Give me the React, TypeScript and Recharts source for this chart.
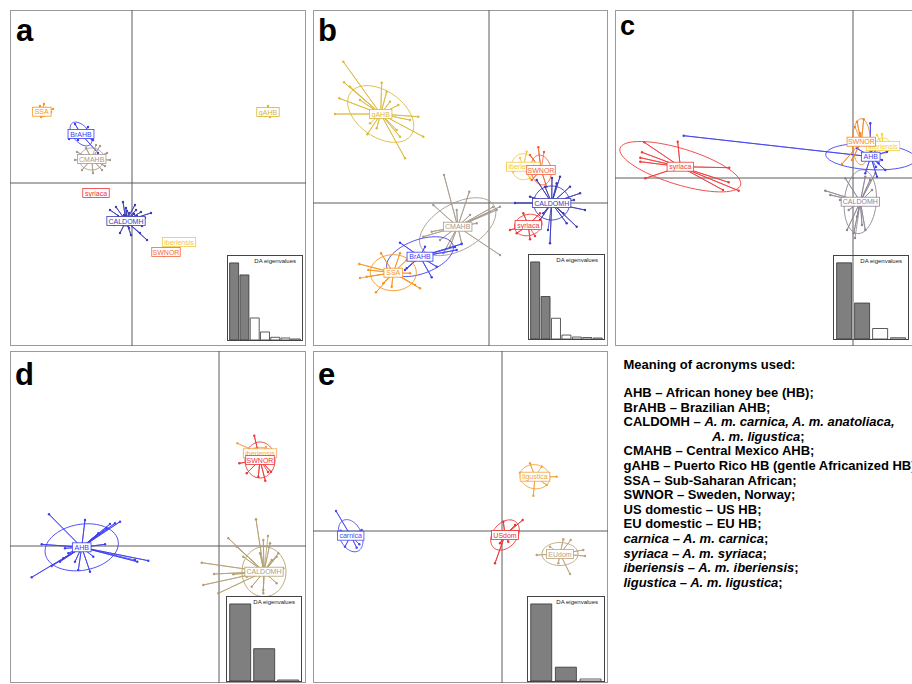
import React from 'react';
import { ComposedChart, Scatter, XAxis, YAxis, ReferenceLine, BarChart, Bar, Cell } from 'recharts';

const FONT = '"Liberation Sans", Arial, Helvetica, sans-serif';
const S = 10; // pixels per discriminant-function unit

type P = [number, number];
type E = [number, number, number]; // semi-axis 1, semi-axis 2, rotation (deg)
interface G { name: string; c: P; e: E; pts: P[]; col: string }

// ---------------- Panel a ----------------
const aSSA: P[] = [[-9.8, 7.3], [-9.6, 6.9], [-9.2, 7.7], [-8.8, 7.9], [-8.4, 7.3], [-8.1, 7.1], [-8.9, 6.7], [-9.4, 6.8], [-8.6, 7.5], [-9.1, 6.6], [-7.9, 7.4]];
const aBrAHB: P[] = [[-3.4, 3.0], [-6.3, 4.4], [-5.7, 5.9], [-4.4, 5.6], [-3.9, 4.3], [-5.4, 4.3], [-4.7, 5.1]];
const aCMAHB: P[] = [[-5.7, 2.3], [-5.5, 3.1], [-2.5, 3.0], [-2.7, 1.7], [-3.9, 1.0], [-5.0, 1.3], [-3.2, 3.7], [-4.6, 3.5], [-3.0, 1.3], [-2.2, 2.3], [-3.6, 3.8]];
const aSyriaca: P[] = [[-3.75, -1.3], [-3.55, -1.32], [-3.45, -1.28]];
const aCALDOMH: P[] = [[-0.9, -1.9], [-2.2, -2.7], [1.5, -5.7], [-1.2, -5.0], [1.3, -3.5], [-0.3, -3.0], [0.2, -3.1], [-0.8, -3.2], [0.4, -2.7], [-0.5, -2.8], [0.1, -3.6], [-1.0, -3.8], [0.7, -3.9], [-0.2, -4.1], [0.5, -3.3], [-1.4, -3.3], [0.9, -2.9], [-0.6, -2.5], [1.0, -4.3], [-0.3, -4.5], [-1.6, -2.4], [0.3, -2.2], [-1.8, -4.2], [1.9, -3.0], [-0.1, -5.2], [0.8, -5.0]];
const aIberiensis: P[] = [[4.3, -5.8], [4.6, -6.0], [5.0, -5.9], [4.8, -5.7]];
const aSWNOR: P[] = [[3.0, -6.7], [3.2, -7.3], [3.6, -7.2], [3.9, -7.1], [3.5, -6.7], [4.2, -6.8]];
const aGAHB: P[] = [[13.0, 7.4], [13.3, 6.7], [14.1, 7.5], [14.4, 7.0], [13.8, 6.6], [13.6, 7.7], [12.9, 7.0], [14.2, 6.8]];

// ---------------- Panel b ----------------
const bGAHB: P[] = [[-14.57, 14.13], [-14.5, 12.07], [-14.97, 10.47], [-15.4, 8.9], [-12.17, 6.87], [-8.4, 4.47], [-6.57, 6.63], [-7.07, 8.63], [-9.07, 9.8], [-10.23, 11.13], [-10.73, 12.03], [-9.9, 10.13], [-8.9, 6.63], [-12.9, 10.3], [-13.9, 11.63], [-9.23, 7.3], [-11.23, 7.47], [-7.9, 8.3], [-11.9, 7.97]];
const bCMAHB: P[] = [[-4.5, 2.8], [-1.97, 1.13], [-5.57, -0.2], [1.1, -0.37], [0.77, -0.7], [1.1, -5.2], [-4.57, -5.03], [-6.57, -3.37], [-5.73, -2.87], [-1.9, -1.2], [-1.23, -2.03], [-2.73, -4.03], [-3.9, -4.37], [-4.9, -3.7], [-3.23, -0.7], [0.4, -0.4], [0.1, -0.9]];
const bBrAHB: P[] = [[-8.9, -3.97], [-5.73, -7.43], [-8.23, -6.53], [-2.73, -4.1], [-3.23, -4.7], [-6.4, -4.37], [-7.57, -5.7], [-5.23, -6.37], [-8.4, -6.7], [-3.4, -4.4]];
const bSSA: P[] = [[-12.97, -6.1], [-12.23, -7.37], [-11.3, -8.93], [-10.8, -5.03], [-8.23, -5.7], [-6.9, -8.53], [-7.4, -8.2], [-8.9, -5.03], [-9.73, -8.37], [-12.07, -6.7], [-7.9, -7.03], [-10.57, -8.03], [-12.9, -7.5]];
const bIberiensis: P[] = [[3.77, 5.13], [2.43, 3.13], [4.1, 2.47], [3.1, 4.5]];
const bSWNOR: P[] = [[4.93, 5.57], [4.1, 4.8], [5.77, 1.63], [6.1, 2.97], [4.27, 2.3], [5.5, 5.1]];
const bCALDOMH: P[] = [[2.6, 0], [4.77, 2.3], [7.1, 2.63], [9.1, 0.97], [9.6, -0.7], [6.1, -4.03], [8.77, -2.37], [7.77, -2.03], [5.1, -1.7], [4.1, 0.63], [6.77, 1.97], [8.1, 1.63], [5.6, 1.63], [7.43, -1.03], [5.43, -1.03], [6.3, 2.5], [8.5, 0.3], [5.9, -2.7]];
const bSyriaca: P[] = [[2.1, -2.7], [4.1, -3.63], [5.1, -1.03], [2.77, -3.03], [3.43, -1.03], [4.6, -3.3]];

// ---------------- Panel c ----------------
const cSyriaca: P[] = [[-20.87, 3.57], [-17.53, 3.63], [-21.1, 2.57], [-21.27, 2.03], [-21.27, 1.63], [-20.77, -0.03], [-12.37, 1.03], [-12.43, -0.43], [-13.0, -1.2], [-11.43, -1.27], [-16.1, 0.8]];
const cAHB: P[] = [[-16.93, 4.23], [1.73, 5.47], [2.73, 3.3], [3.4, 2.63], [3.23, 0.8], [2.4, 0.13], [1.23, 0.47], [0.4, 2.97], [2.57, 1.47], [2.9, 1.8], [1.9, 2.8], [2.3, 1.1]];
const cSWNOR: P[] = [[0.4, 5.63], [1.07, 5.87], [-1.1, 1.4], [-0.1, 1.8], [0.7, 4.47], [1.57, 2.97], [0.2, 5.1]];
const cIberiensis: P[] = [[2.4, 4.3], [3.3, 3.5], [2.9, 4.4], [2.6, 3.3]];
const cCALDOMH: P[] = [[-2.77, -1.27], [-2.27, -1.7], [-0.77, -0.03], [0.07, -5.53], [-0.6, -5.2], [1.23, -5.2], [2.23, 0.47], [1.9, -1.2], [0.4, -3.87], [0.9, -4.7], [-0.43, -3.2], [1.23, 0.13], [1.7, -0.2], [-1.3, -2.2], [0.2, -6.0]];

// ---------------- Panel d ----------------
const dAHB: P[] = [[-17.0, 3.17], [-17.73, 0.17], [-18.73, -3.13], [-16.73, -2.0], [-15.57, -1.23], [-14.07, -2.4], [-12.9, -2.57], [-13.4, 2.6], [-9.9, 2.43], [-10.4, 2.27], [-11.23, 1.77], [-11.4, 0.17], [-8.17, -1.57], [-7.07, -1.47], [-15.4, -0.23], [-15.07, -0.73], [-12.57, -1.07], [-12.07, 1.27], [-15.9, -1.57], [-14.4, -1.57], [-10.9, 2.2], [-8.4, -1.4]];
const dCALDOMH: P[] = [[3.7, 2.67], [0.93, 0.77], [-1.73, -1.67], [-1.57, -3.9], [4.43, 0.6], [5.1, 0.27], [5.77, -1.07], [2.43, -1.07], [3.27, -4.07], [4.43, -4.4], [5.77, -3.73], [1.77, -0.07], [5.93, -0.73], [5.27, -1.4], [4.43, -4.73], [4.1, -0.73], [6.43, -2.23], [2.77, -3.07], [1.43, -2.83], [-0.5, -2.8], [-0.07, -4.73], [4.9, 1.0]];
const dSWNOR: P[] = [[3.53, 11.03], [2.03, 8.27], [3.93, 6.93], [4.63, 6.53], [5.2, 7.43], [2.77, 7.27], [4.9, 7.4]];
const dIberiensis: P[] = [[1.83, 10.27], [4.7, 9.9], [3.6, 9.7]];

// ---------------- Panel e ----------------
const eCarnica: P[] = [[-16.6, 2.0], [-16.13, 0.03], [-14.03, 0.1], [-15.7, -1.57], [-14.53, -1.67], [-14.27, -1.33], [-15.37, -0.07]];
const eUSdom: P[] = [[2.07, 1.1], [-0.7, -3.23], [0.13, 0.93], [1.13, -0.4], [-0.2, -1.23], [0.63, -1.07], [1.3, 0.6]];
const eLigustica: P[] = [[2.8, 6.77], [1.8, 5.83], [5.47, 5.43], [3.13, 3.53], [4.47, 4.6], [3.97, 6.43]];
const eEUdom: P[] = [[3.47, -2.4], [6.13, -0.83], [6.87, -0.9], [8.13, -1.9], [8.3, -2.5], [6.8, -4.3], [5.63, -3.23], [4.8, -1.57]];

// ---------------- DA eigenvalues ----------------
const eigA = [77, 65, 22, 8, 2.7, 2, 1];
const eigB = [78, 43, 21, 4, 2, 1.5, 1];
const eigC = [77.7, 36.7, 10.7, 1.3];
const eigD = [77, 32.3, 1];
const eigE = [78, 14, 2];

// ---------------- groups ----------------
const groupsA: G[] = [
  { name: 'SSA', c: [-9.03, 7.13], e: [0.7, 0.4, 0], pts: aSSA, col: '#f7941d' },
  { name: 'BrAHB', c: [-5.1, 4.9], e: [1.4, 0.8, -50], pts: aBrAHB, col: '#3d3df2' },
  { name: 'CMAHB', c: [-4.03, 2.4], e: [1.25, 1.1, 0], pts: aCMAHB, col: '#a69a8e' },
  { name: 'syriaca', c: [-3.6, -1.0], e: [0.45, 0.15, 0], pts: aSyriaca, col: '#ee3535' },
  { name: 'CALDOMH', c: [-0.6, -3.8], e: [0.9, 0.5, 0], pts: aCALDOMH, col: '#3a3ab8' },
  { name: 'iberiensis', c: [4.7, -5.9], e: [0.5, 0.2, 0], pts: aIberiensis, col: '#f2c744' },
  { name: 'SWNOR', c: [3.4, -6.9], e: [0.5, 0.25, 0], pts: aSWNOR, col: '#f2683f' },
  { name: 'gAHB', c: [13.6, 7.1], e: [0.6, 0.35, 0], pts: aGAHB, col: '#d9b52e' },
];
const groupsB: G[] = [
  { name: 'gAHB', c: [-10.83, 8.9], e: [3.7, 2.3, -35], pts: bGAHB, col: '#dcb93a' },
  { name: 'CMAHB', c: [-3.13, -2.37], e: [4.2, 2.3, 30], pts: bCMAHB, col: '#a69a8e' },
  { name: 'BrAHB', c: [-6.9, -5.37], e: [3.5, 1.7, 20], pts: bBrAHB, col: '#3d3df2' },
  { name: 'SSA', c: [-9.57, -6.97], e: [2.3, 1.8, 0], pts: bSSA, col: '#f7941d' },
  { name: 'iberiensis', c: [3.43, 3.63], e: [1.2, 1.3, 0], pts: bIberiensis, col: '#f2c744' },
  { name: 'SWNOR', c: [5.2, 3.3], e: [1.0, 1.5, 10], pts: bSWNOR, col: '#f0603a' },
  { name: 'CALDOMH', c: [6.27, 0], e: [1.8, 1.7, 0], pts: bCALDOMH, col: '#3a3ab8' },
  { name: 'syriaca', c: [3.93, -2.2], e: [1.4, 1.05, 15], pts: bSyriaca, col: '#ee3535' },
];
const groupsC: G[] = [
  { name: 'syriaca', c: [-17.27, 1.13], e: [6.3, 1.8, -17], pts: cSyriaca, col: '#ef3b3b' },
  { name: 'CALDOMH', c: [0.73, -2.37], e: [1.6, 3.2, -5], pts: cCALDOMH, col: '#8e8494' },
  { name: 'iberiensis', c: [3.0, 3.2], e: [0.8, 0.8, 0], pts: cIberiensis, col: '#f2d23c' },
  { name: 'AHB', c: [1.77, 2.13], e: [4.5, 1.3, -3], pts: cAHB, col: '#3f3ff0' },
  { name: 'SWNOR', c: [0.83, 3.63], e: [0.9, 2.3, 0], pts: cSWNOR, col: '#f0862a' },
];
const groupsD: G[] = [
  { name: 'AHB', c: [-13.73, -0.13], e: [3.7, 2.3, 10], pts: dAHB, col: '#3d3df0' },
  { name: 'CALDOMH', c: [4.5, -2.57], e: [2.2, 2.5, 0], pts: dCALDOMH, col: '#b3a06e' },
  { name: 'iberiensis', c: [4.1, 9.27], e: [1.2, 0.6, 0], pts: dIberiensis, col: '#f4a64a' },
  { name: 'SWNOR', c: [4.1, 8.6], e: [1.5, 1.8, 0], pts: dSWNOR, col: '#ee3434' },
];
const groupsE: G[] = [
  { name: 'carnica', c: [-15.13, -0.47], e: [1.7, 1.1, -65], pts: eCarnica, col: '#4a4af0' },
  { name: 'USdom', c: [0.3, -0.4], e: [1.7, 1.2, 50], pts: eUSdom, col: '#ee2f2f' },
  { name: 'ligustica', c: [3.3, 5.43], e: [1.5, 1.2, -10], pts: eLigustica, col: '#f2a23a' },
  { name: 'EUdom', c: [5.8, -2.3], e: [1.8, 1.15, 0], pts: eEUdom, col: '#b9a47e' },
];

// ---------------- helpers ----------------
function ellipsePoints(c: P, e: E) {
  const [rx, ry, deg] = e;
  const th = (deg * Math.PI) / 180;
  const out: { x: number; y: number }[] = [];
  for (let i = 0; i <= 72; i++) {
    const t = (i / 72) * 2 * Math.PI;
    const ex = rx * Math.cos(t);
    const ey = ry * Math.sin(t);
    out.push({ x: c[0] + ex * Math.cos(th) - ey * Math.sin(th), y: c[1] + ex * Math.sin(th) + ey * Math.cos(th) });
  }
  return out;
}
function starPoints(g: G) {
  const out: { x: number; y: number }[] = [];
  g.pts.forEach((p) => {
    out.push({ x: g.c[0], y: g.c[1] });
    out.push({ x: p[0], y: p[1] });
  });
  return out;
}
function textW(s: string, fs: number) {
  let w = 0;
  for (const ch of s) {
    if (/[A-Z]/.test(ch)) w += 0.7;
    else if (/[ilj]/.test(ch)) w += 0.23;
    else if (/[mw]/.test(ch)) w += 0.8;
    else if (/[rtf]/.test(ch)) w += 0.33;
    else if (/[a-z]/.test(ch)) w += 0.53;
    else w += 0.3;
  }
  return w * fs;
}

const Empty = () => <g />;

interface PanelCfg { left: number; top: number; w: number; h: number; ox: number; oy: number }

function LabelBox({ cx, cy, text, col }: { cx: number; cy: number; text: string; col: string }) {
  const fs = 7;
  const w = textW(text, fs) + 4;
  const h = 9;
  return (
    <g>
      <rect x={cx - w / 2} y={cy - h / 2} width={w} height={h} fill="#fff" stroke={col} strokeWidth={0.8} />
      <text x={cx} y={cy + 2.5} textAnchor="middle" fontSize={fs} fontFamily={FONT} fill={col}>{text}</text>
    </g>
  );
}

function DapcPanel({ cfg, groups }: { cfg: PanelCfg; groups: G[] }) {
  const { left, top, w, h, ox, oy } = cfg;
  const xDom: [number, number] = [-ox / S, (w - ox) / S];
  const yDom: [number, number] = [-(h - oy) / S, oy / S];
  return (
    <div style={{ position: 'absolute', left, top, width: w, height: h }}>
      <div style={{ position: 'absolute', left: 0, top: 0, width: w, height: h, border: '1px solid #9a9a9a', boxSizing: 'border-box' }} />
      <div style={{ position: 'absolute', left: 0, top: 0 }}>
        <ComposedChart width={w} height={h} margin={{ top: 0, right: 0, bottom: 0, left: 0 }}>
          <XAxis type="number" dataKey="x" domain={xDom} allowDataOverflow hide />
          <YAxis type="number" dataKey="y" domain={yDom} allowDataOverflow hide />
          <ReferenceLine x={0} stroke="#5c5c5c" strokeWidth={1} />
          <ReferenceLine y={0} stroke="#5c5c5c" strokeWidth={1} />
          {groups.map((g) => (
            <React.Fragment key={g.name}>
              <Scatter data={starPoints(g)} line={{ stroke: g.col, strokeWidth: 0.8 }} shape={Empty} isAnimationActive={false} legendType="none" />
              <Scatter data={ellipsePoints(g.c, g.e)} line={{ stroke: g.col, strokeWidth: 0.9 }} shape={Empty} isAnimationActive={false} legendType="none" />
              <Scatter
                data={g.pts.map((p) => ({ x: p[0], y: p[1] }))}
                shape={(p: any) => <circle cx={p.cx} cy={p.cy} r={1.2} fill={g.col} />}
                isAnimationActive={false}
                legendType="none"
              />
            </React.Fragment>
          ))}
          {groups.map((g) => (
            <Scatter
              key={g.name + '-label'}
              data={[{ x: g.c[0], y: g.c[1] }]}
              shape={(p: any) => <LabelBox cx={p.cx} cy={p.cy} text={g.name} col={g.col} />}
              isAnimationActive={false}
              legendType="none"
            />
          ))}
        </ComposedChart>
      </div>
    </div>
  );
}

interface InsetCfg { left: number; top: number; w: number; h: number; dark: number; gap: string; bg: string }

function EigenInset({ cfg, values }: { cfg: InsetCfg; values: number[] }) {
  const data = values.map((v, i) => ({ k: String(i + 1), v }));
  return (
    <div style={{ position: 'absolute', left: cfg.left, top: cfg.top, width: cfg.w, height: cfg.h, border: '1px solid #444', boxSizing: 'border-box', background: cfg.bg }}>
      <BarChart width={cfg.w - 2} height={cfg.h - 2} data={data} margin={{ top: 0, right: 1, bottom: 0, left: 1 }} barCategoryGap={cfg.gap}>
        <XAxis dataKey="k" hide />
        <YAxis hide domain={[0, (m: number) => m * 1.09]} />
        <Bar dataKey="v" isAnimationActive={false} stroke="#333" strokeWidth={0.8}>
          {data.map((d, i) => (
            <Cell key={d.k} fill={i < cfg.dark ? '#7f7f7f' : '#ffffff'} />
          ))}
        </Bar>
      </BarChart>
      <div style={{ position: 'absolute', right: 6, top: 2, fontSize: 6, lineHeight: '7px', fontFamily: FONT, color: '#222' }}>DA eigenvalues</div>
    </div>
  );
}

const panelA: PanelCfg = { left: 10, top: 10, w: 296, h: 336, ox: 122, oy: 173 };
const panelB: PanelCfg = { left: 313, top: 10, w: 295, h: 336, ox: 176, oy: 193 };
const panelC: PanelCfg = { left: 615, top: 10, w: 300, h: 336, ox: 238, oy: 168 };
const panelD: PanelCfg = { left: 10, top: 351, w: 296, h: 332, ox: 209, oy: 195 };
const panelE: PanelCfg = { left: 313, top: 351, w: 295, h: 332, ox: 189, oy: 180 };

const insetA: InsetCfg = { left: 227, top: 255, w: 76, h: 86, dark: 2, gap: '6%', bg: '#fff' };
const insetB: InsetCfg = { left: 528, top: 254, w: 77, h: 86, dark: 2, gap: '6%', bg: '#fff' };
const insetC: InsetCfg = { left: 833, top: 255, w: 76, h: 85, dark: 2, gap: '9%', bg: 'transparent' };
const insetD: InsetCfg = { left: 226, top: 596, w: 76, h: 86, dark: 2, gap: '7%', bg: '#fff' };
const insetE: InsetCfg = { left: 527, top: 596, w: 78, h: 86, dark: 2, gap: '7%', bg: '#fff' };

const letterStyle = (left: number, top: number, size: number): React.CSSProperties => ({
  position: 'absolute', left, top, fontSize: size, lineHeight: 1, fontWeight: 'bold', fontFamily: FONT, color: '#000',
});

export default function App() {
  return (
    <div style={{ position: 'absolute', left: 0, top: 0, width: 912, height: 684, overflow: 'hidden', background: '#fff', fontFamily: FONT }}>
      <DapcPanel cfg={panelA} groups={groupsA} />
      <DapcPanel cfg={panelB} groups={groupsB} />
      <DapcPanel cfg={panelC} groups={groupsC} />
      <DapcPanel cfg={panelD} groups={groupsD} />
      <DapcPanel cfg={panelE} groups={groupsE} />
      <EigenInset cfg={insetA} values={eigA} />
      <EigenInset cfg={insetB} values={eigB} />
      <EigenInset cfg={insetC} values={eigC} />
      <EigenInset cfg={insetD} values={eigD} />
      <EigenInset cfg={insetE} values={eigE} />
      <div style={letterStyle(16, 15, 31)}>a</div>
      <div style={letterStyle(318, 15, 31)}>b</div>
      <div style={letterStyle(620, 13, 27)}>c</div>
      <div style={letterStyle(15, 359, 31)}>d</div>
      <div style={letterStyle(318, 359, 31)}>e</div>
      <div style={{ position: 'absolute', left: 623.5, top: 357.7, fontSize: 13, fontWeight: 'bold', lineHeight: '14.6px', whiteSpace: 'nowrap', color: '#000' }}>
        <div>Meaning of acronyms used:</div>
        <div style={{ height: 13.7 }} />
        <div>AHB – African honey bee (HB);</div>
        <div>BrAHB – Brazilian AHB;</div>
        <div>CALDOMH – <i>A. m. carnica, A. m. anatoliaca,</i></div>
        <div style={{ paddingLeft: 88.5 }}><i>A. m. ligustica</i>;</div>
        <div>CMAHB – Central Mexico AHB;</div>
        <div>gAHB – Puerto Rico HB (gentle Africanized HB);</div>
        <div>SSA – Sub-Saharan African;</div>
        <div>SWNOR – Sweden, Norway;</div>
        <div>US domestic – US HB;</div>
        <div>EU domestic – EU HB;</div>
        <div><i>carnica – A. m. carnica</i>;</div>
        <div><i>syriaca – A. m. syriaca</i>;</div>
        <div><i>iberiensis – A. m. iberiensis</i>;</div>
        <div><i>ligustica – A. m. ligustica</i>;</div>
      </div>
    </div>
  );
}
